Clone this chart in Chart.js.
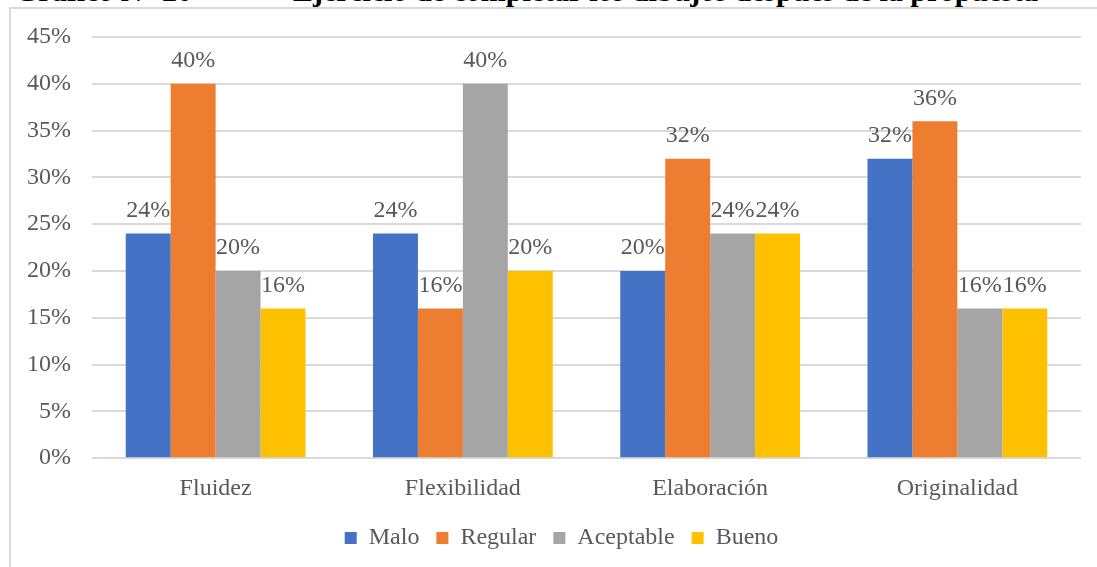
<!DOCTYPE html>
<html>
<head>
<meta charset="utf-8">
<script src="https://cdn.jsdelivr.net/npm/chart.js@4"></script>
<style>
  body { margin: 0; width: 1097px; height: 567px; overflow: hidden; background: #fff; position: relative; }
  #title { position: absolute; top: -24px; left: 0; width: 1097px; font: bold 30px "Liberation Serif", serif; line-height: 30px; color: #000; white-space: nowrap; }
  #title span { position: absolute; }
  #frame { position: absolute; left: 9px; top: 7px; width: 1200px; height: 700px; border: 2px solid #d9d9d9; }
  #wrap { position: absolute; left: 0; top: 0; width: 1097px; height: 567px; }
</style>
</head>
<body>
<div id="frame"></div>
<div id="title"><span style="left:15px">Gráfico N° 20</span><span style="left:293px">Ejercicio de completar los dibujos después de la propuesta</span></div>
<div id="wrap"><canvas id="chart"></canvas></div>
<script>
// Categories and series (percent)
const categories = ["Fluidez", "Flexibilidad", "Elaboración", "Originalidad"];
const malo = [24, 24, 20, 32];
const regular = [40, 16, 32, 36];
const aceptable = [20, 40, 24, 16];
const bueno = [16, 20, 24, 16];
const yTicks = [0, 5, 10, 15, 20, 25, 30, 35, 40, 45];

const textColor = "#595959";
const fontFamily = '"Liberation Serif", "Times New Roman", serif';
const fontSize = 24;

// Draws the value label above each bar
const barLabels = {
  id: "barLabels",
  afterDatasetsDraw(chart) {
    const ctx = chart.ctx;
    ctx.save();
    ctx.font = fontSize + "px " + fontFamily;
    ctx.fillStyle = textColor;
    ctx.textAlign = "center";
    ctx.textBaseline = "middle";
    chart.data.datasets.forEach((ds, i) => {
      chart.getDatasetMeta(i).data.forEach((bar, j) => {
        ctx.fillText(ds.data[j] + "%", bar.x, bar.y - 23);
      });
    });
    ctx.restore();
  },
};

// Nudges the legend a bit to the right, like the original
const legendShift = {
  id: "legendShift",
  afterLayout(chart) {
    chart.legend.left += 18;
    chart.legend.right += 18;
  },
};

new Chart(document.getElementById("chart"), {
  type: "bar",
  data: {
    labels: categories,
    datasets: [
      { label: "Malo", data: malo, backgroundColor: "#4472C4" },
      { label: "Regular", data: regular, backgroundColor: "#ED7D31" },
      { label: "Aceptable", data: aceptable, backgroundColor: "#A5A5A5" },
      { label: "Bueno", data: bueno, backgroundColor: "#FFC000" },
    ],
  },
  options: {
    responsive: true,
    maintainAspectRatio: false,
    animation: false,
    layout: { padding: { left: 6, right: 16, top: 37, bottom: 7 } },
    datasets: { bar: { categoryPercentage: 0.727, barPercentage: 1 } },
    scales: {
      x: {
        grid: { display: false },
        border: { display: false },
        afterFit: (scale) => { scale.height -= 2; },
        ticks: { color: textColor, font: { family: fontFamily, size: fontSize }, padding: 8 },
      },
      y: {
        min: 0,
        max: 45,
        afterBuildTicks: (scale) => { scale.ticks = yTicks.map((v) => ({ value: v })); },
        grid: { color: "#d9d9d9", lineWidth: 2, drawTicks: false },
        border: { display: false },
        ticks: {
          color: textColor,
          font: { family: fontFamily, size: fontSize },
          padding: 21,
          callback: (v) => v + "%",
        },
      },
    },
    plugins: {
      legend: {
        position: "bottom",
        labels: {
          color: textColor,
          font: { family: fontFamily, size: fontSize },
          boxWidth: 12,
          boxHeight: 12,
          padding: 17,
        },
      },
      tooltip: { enabled: false },
    },
  },
  plugins: [barLabels, legendShift],
});
</script>
</body>
</html>
